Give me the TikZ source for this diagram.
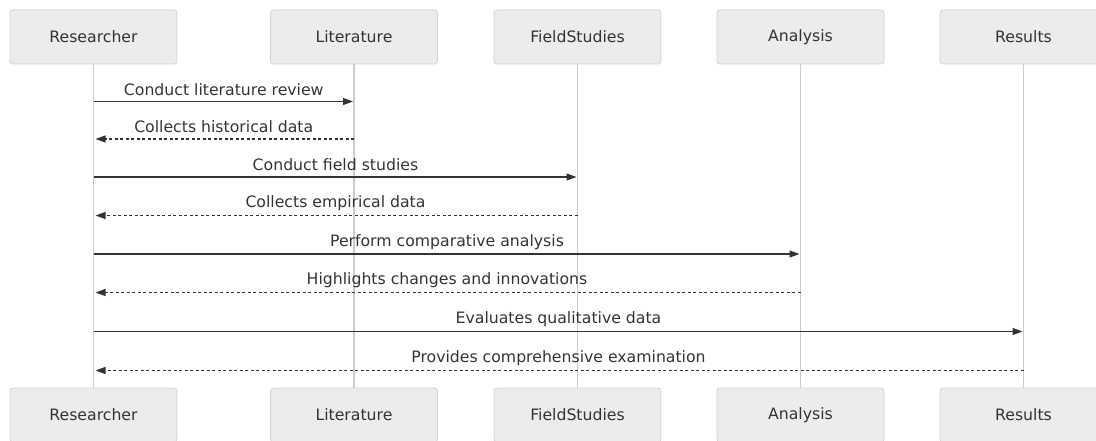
\documentclass[tikz,border=0pt]{standalone}
\usepackage{fontspec}
\setmainfont{DejaVu Sans}
\usetikzlibrary{arrows.meta}
\definecolor{actorfill}{HTML}{ECECEC}
\definecolor{actorline}{HTML}{D2D2D2}
\definecolor{lifeline}{HTML}{CCCCCC}
\definecolor{ink}{HTML}{333333}

\begin{document}
\begin{tikzpicture}[x=1pt,y=-1pt,
  txt/.style={text=ink, font=\fontsize{15.7}{18}\selectfont},
  actor/.style={txt, draw=actorline, fill=actorfill, rounded corners=3pt,
    minimum width=167pt, minimum height=54pt, line width=0.8pt, inner sep=0pt},
  life/.style={draw=lifeline, line width=1.5pt},
  msg/.style={draw=ink, line width=1.2pt, shorten >=1pt,
    -{Triangle[length=10pt,width=7pt]}},
  reply/.style={msg, shorten >=2pt, dash pattern=on 3pt off 2.5pt},
  lbl/.style={txt, inner sep=0pt, midway, yshift=12pt}
]
\useasboundingbox (0,0) rectangle (1096,441);

% participants, top row
\node[actor] (rT) at (93.5,37) {Researcher};
\node[actor] (lT) at (354,37) {Literature};
\node[actor] (fT) at (577.5,37) {FieldStudies};
\node[actor] (aT) at (800.5,37) {Analysis};
\node[actor] (sT) at (1023.5,37) {Results};

% participants, bottom row
\node[actor] (rB) at (93.5,415) {Researcher};
\node[actor] (lB) at (354,415) {Literature};
\node[actor] (fB) at (577.5,415) {FieldStudies};
\node[actor] (aB) at (800.5,415) {Analysis};
\node[actor] (sB) at (1023.5,415) {Results};

% lifelines
\foreach \p in {r,l,f,a,s}
  \draw[life] (\p T.south) -- (\p B.north);

% message rows
\coordinate (y1) at (0,101.5);
\coordinate (y2) at (0,139);
\coordinate (y3) at (0,177);
\coordinate (y4) at (0,215.5);
\coordinate (y5) at (0,254);
\coordinate (y6) at (0,292.5);
\coordinate (y7) at (0,331.5);
\coordinate (y8) at (0,370.5);

% messages
\draw[msg]   (rT |- y1) -- node[lbl] {Conduct literature review} (lT |- y1);
\draw[reply] (lT |- y2) -- node[lbl] {Collects historical data} (rT |- y2);
\draw[msg]   (rT |- y3) -- node[lbl] {Conduct field studies} (fT |- y3);
\draw[reply] (fT |- y4) -- node[lbl] {Collects empirical data} (rT |- y4);
\draw[msg]   (rT |- y5) -- node[lbl] {Perform comparative analysis} (aT |- y5);
\draw[reply] (aT |- y6) -- node[lbl] {Highlights changes and innovations} (rT |- y6);
\draw[msg]   (rT |- y7) -- node[lbl] {Evaluates qualitative data} (sT |- y7);
\draw[reply] (sT |- y8) -- node[lbl] {Provides comprehensive examination} (rT |- y8);
\end{tikzpicture}
\end{document}
